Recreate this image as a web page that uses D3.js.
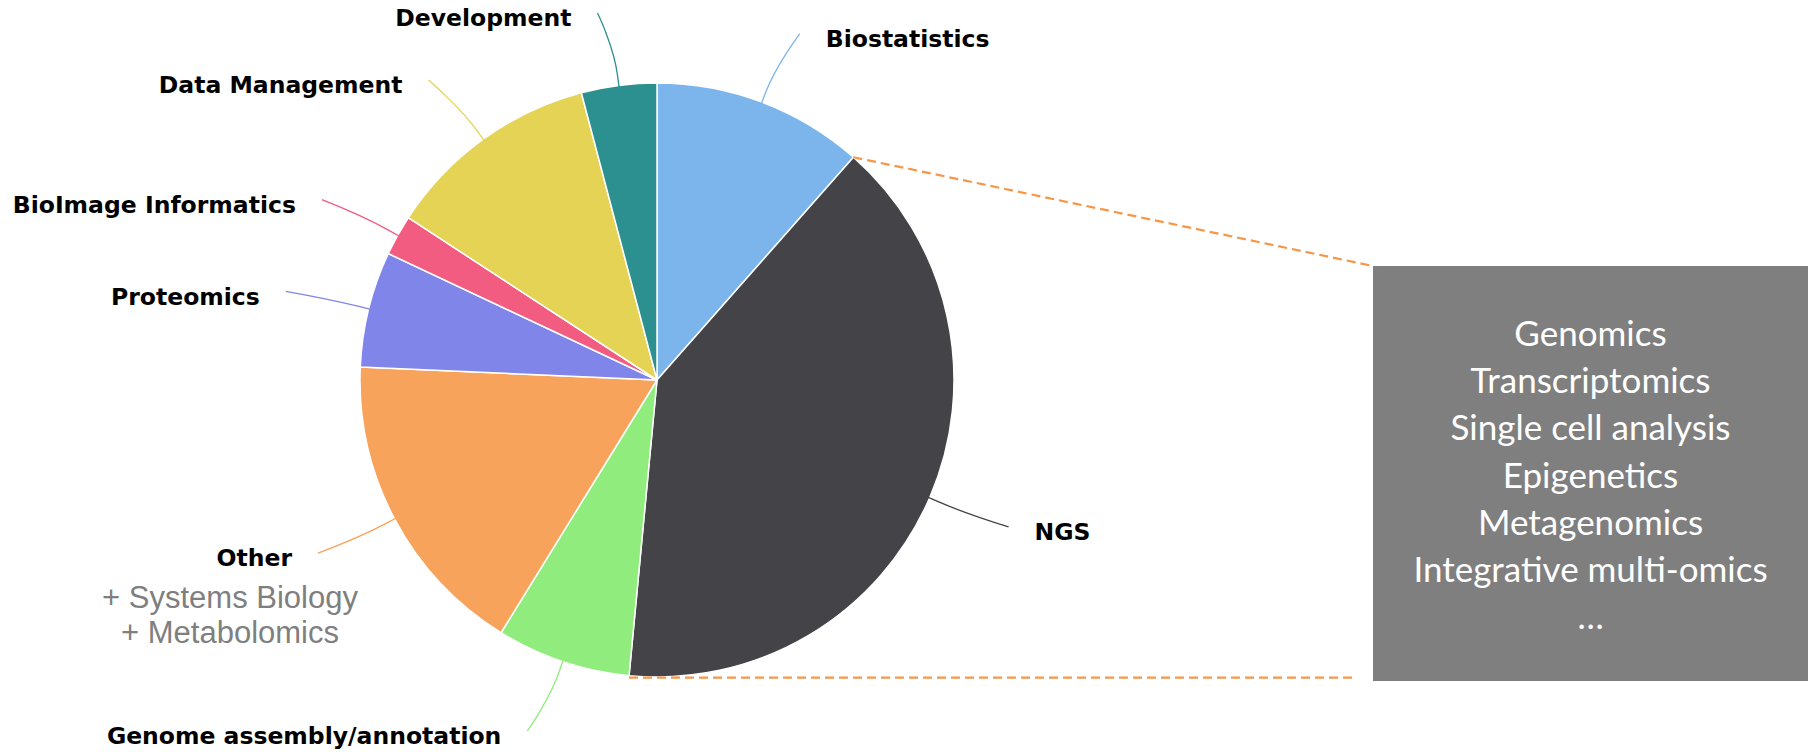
<!DOCTYPE html>
<html>
<head>
<meta charset="utf-8">
<script src="https://cdn.jsdelivr.net/npm/d3@7"></script>
<style>
  body { margin: 0; background: #fff; }
  svg { display: block; }
</style>
</head>
<body>
<div class="pie-container"></div>
<script>
const categories = ["Biostatistics", "NGS", "Genome assembly/annotation", "Other", "Proteomics", "BioImage Informatics", "Data Management", "Development"];
const shares = [11.5, 40.0, 7.3, 16.9, 6.3, 2.2, 11.7, 4.1];
const sliceColors = ["#7cb5ec", "#434348", "#90ed7d", "#f7a35c", "#8085e9", "#f15c80", "#e4d354", "#2b908f"];
const otherNotes = ["+ Systems Biology", "+ Metabolomics"];
const ngsTopics = ["Genomics", "Transcriptomics", "Single cell analysis", "Epigenetics", "Metagenomics", "Integrative multi-omics", "…"];

const width = 1808, height = 752;
const cx = 657, cy = 380, radius = 297;
const labelRadius = radius + 73;

const svg = d3.select(".pie-container")
  .append("svg")
  .attr("width", width)
  .attr("height", height);

const data = categories.map((name, i) => ({name, value: shares[i], color: sliceColors[i]}));

const pie = d3.pie()
  .sort(null)
  .value(d => d.value);

const arc = d3.arc()
  .innerRadius(0)
  .outerRadius(radius);

const arcs = pie(data);
const polar = (a, r) => [cx + r * Math.sin(a), cy - r * Math.cos(a)];

const g = svg.append("g");

// slices
g.append("g")
  .attr("transform", `translate(${cx},${cy})`)
  .selectAll("path")
  .data(arcs)
  .enter().append("path")
  .attr("d", arc)
  .attr("fill", d => d.data.color)
  .attr("stroke", "#fff")
  .attr("stroke-width", 1.5)
  .attr("stroke-linejoin", "round");

// label positions, highcharts style soft connectors
arcs.forEach(d => {
  const a = (d.startAngle + d.endAngle) / 2;
  d.side = Math.sin(a) >= 0 ? 1 : -1;
  const p = polar(a, labelRadius);
  d.edge = polar(a, radius - 2);
  d.brk = polar(a, radius + 10);
  d.end = [p[0] + d.side * 12, p[1]];
  d.text = [d.end[0] + d.side * 26, p[1] + 5];
});

g.append("g")
  .selectAll("path")
  .data(arcs)
  .enter().append("path")
  .attr("fill", "none")
  .attr("stroke", d => d.data.color)
  .attr("stroke-width", 1.3)
  .attr("d", d => {
    const [ex, ey] = d.edge, [bx, by] = d.brk, [lx, ly] = d.end;
    const c2 = [bx + (bx - ex) * 2.5, by + (by - ey) * 2.5];
    return `M${lx},${ly}C${lx},${ly} ${c2[0]},${c2[1]} ${bx},${by}L${ex},${ey}`;
  });

g.append("g")
  .selectAll("text")
  .data(arcs)
  .enter().append("text")
  .attr("x", d => d.text[0])
  .attr("y", d => d.text[1])
  .attr("dy", "0.35em")
  .attr("text-anchor", d => d.side > 0 ? "start" : "end")
  .style("font-family", "'DejaVu Sans', sans-serif")
  .style("font-weight", "bold")
  .style("font-size", "23.5px")
  .attr("fill", "#000")
  .text(d => d.data.name);

// extra notes under "Other"
const other = arcs.find(d => d.data.name === "Other");
svg.append("g")
  .selectAll("text")
  .data(otherNotes)
  .enter().append("text")
  .attr("x", other.text[0] - 62)
  .attr("y", (d, i) => other.text[1] + 39 + i * 35)
  .attr("dy", "0.35em")
  .attr("text-anchor", "middle")
  .style("font-family", "'Liberation Sans', Arial, sans-serif")
  .style("font-size", "31px")
  .attr("fill", "#7f7f7f")
  .text(d => d);

// zoom-out box for NGS
const box = {x: 1373, y: 266, w: width - 1373, h: 415};
const ngs = arcs.find(d => d.data.name === "NGS");
const pTop = polar(ngs.startAngle, radius);
const pBot = polar(ngs.endAngle, radius);

const callout = svg.append("g")
  .attr("stroke", "#f79646")
  .attr("stroke-width", 2.2)
  .attr("stroke-dasharray", "9 5");
callout.append("line")
  .attr("x1", pTop[0]).attr("y1", pTop[1])
  .attr("x2", box.x).attr("y2", box.y);
callout.append("line")
  .attr("x1", pBot[0]).attr("y1", pBot[1] + 2)
  .attr("x2", box.x - 18).attr("y2", pBot[1] + 2);

svg.append("rect")
  .attr("x", box.x).attr("y", box.y)
  .attr("width", box.w).attr("height", box.h)
  .attr("fill", "#7f7f7f");

svg.append("g")
  .selectAll("text")
  .data(ngsTopics)
  .enter().append("text")
  .attr("x", box.x + box.w / 2)
  .attr("y", (d, i) => 334 + i * 47.1)
  .attr("dy", "0.35em")
  .attr("text-anchor", "middle")
  .style("font-family", "Lato, 'Open Sans', sans-serif")
  .style("font-size", "35px")
  .attr("fill", "#fff")
  .text(d => d);
</script>
</body>
</html>
